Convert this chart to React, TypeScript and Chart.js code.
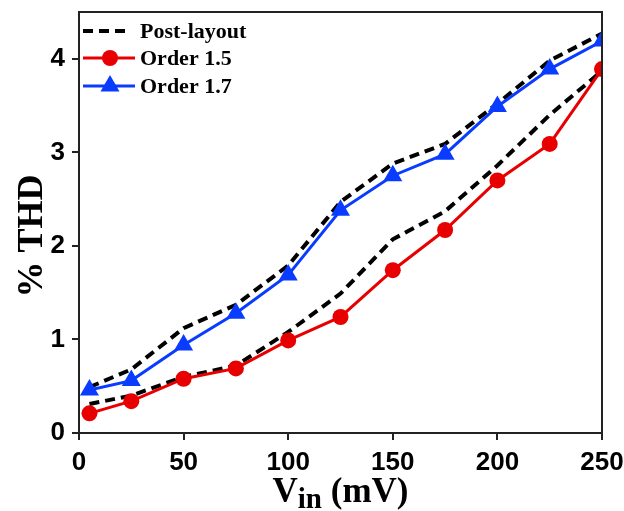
import React, { useEffect, useRef } from "react";
import { Chart, registerables } from "chart.js";

Chart.register(...registerables);

const vin = [5, 25, 50, 75, 100, 125, 150, 175, 200, 225, 250];
const order15 = [0.21, 0.34, 0.58, 0.69, 0.99, 1.24, 1.74, 2.17, 2.7, 3.09, 3.89];
const order17 = [0.46, 0.56, 0.94, 1.28, 1.69, 2.38, 2.75, 2.98, 3.49, 3.89, 4.19];
const post15 = [0.31, 0.4, 0.6, 0.72, 1.08, 1.49, 2.07, 2.37, 2.86, 3.4, 3.87];
const post17 = [0.49, 0.68, 1.12, 1.37, 1.79, 2.47, 2.88, 3.09, 3.52, 3.98, 4.27];
const xTicks = [0, 50, 100, 150, 200, 250];
const yTicks = [0, 1, 2, 3, 4];
const legendLabels = ["Post-layout", "Order 1.5", "Order 1.7"];

const RED = "#e80000";
const BLUE = "#0a3cff";
const SERIF = "'Liberation Serif', 'Times New Roman', serif";
const SANS = "'Liberation Sans', Arial, sans-serif";

const toPts = (ys: number[]) => ys.map((y, i) => ({ x: vin[i], y }));

const decor = {
  id: "decor",
  afterDraw(chart: any) {
    const ctx = chart.ctx as CanvasRenderingContext2D;
    const a = chart.chartArea;
    ctx.save();
    // frame top/right
    ctx.strokeStyle = "#222";
    ctx.lineWidth = 2;
    ctx.beginPath();
    ctx.moveTo(a.left, a.top);
    ctx.lineTo(a.right, a.top);
    ctx.lineTo(a.right, a.bottom);
    ctx.stroke();

    // legend
    const lx0 = a.left + 4;
    const lx1 = a.left + 56;
    const mx = a.left + 31;
    const tx = a.left + 61;
    const rows = [a.top + 19, a.top + 46, a.top + 74];
    ctx.font = `bold 22px ${SERIF}`;
    ctx.textBaseline = "middle";
    ctx.fillStyle = "#000";
    // row 1 dashed
    ctx.strokeStyle = "#000";
    ctx.lineWidth = 4;
    ctx.setLineDash([10, 6]);
    ctx.beginPath();
    ctx.moveTo(lx0, rows[0]);
    ctx.lineTo(lx1 - 5, rows[0]);
    ctx.stroke();
    ctx.setLineDash([]);
    // row 2 red
    ctx.strokeStyle = RED;
    ctx.lineWidth = 3;
    ctx.beginPath();
    ctx.moveTo(lx0, rows[1]);
    ctx.lineTo(lx1, rows[1]);
    ctx.stroke();
    ctx.fillStyle = RED;
    ctx.beginPath();
    ctx.arc(mx, rows[1], 8, 0, Math.PI * 2);
    ctx.fill();
    // row 3 blue
    ctx.strokeStyle = BLUE;
    ctx.beginPath();
    ctx.moveTo(lx0, rows[2]);
    ctx.lineTo(lx1, rows[2]);
    ctx.stroke();
    ctx.fillStyle = BLUE;
    const r = 11;
    ctx.beginPath();
    ctx.moveTo(mx, rows[2] - r);
    ctx.lineTo(mx + r * 0.866, rows[2] + r * 0.5);
    ctx.lineTo(mx - r * 0.866, rows[2] + r * 0.5);
    ctx.closePath();
    ctx.fill();
    ctx.fillStyle = "#000";
    legendLabels.forEach((t, i) => ctx.fillText(t, tx, rows[i] + 1));

    // x title with subscript
    const big = `bold 35px ${SERIF}`;
    const small = `bold 29px ${SERIF}`;
    ctx.textBaseline = "alphabetic";
    ctx.font = big;
    const wV = ctx.measureText("V").width;
    const wRest = ctx.measureText(" (mV)").width;
    ctx.font = small;
    const wIn = ctx.measureText("in").width;
    const total = wV + wIn + wRest;
    let x = (a.left + a.right) / 2 - total / 2;
    const by = 502;
    ctx.font = big;
    ctx.fillText("V", x, by);
    x += wV;
    ctx.font = small;
    ctx.fillText("in", x, by + 6);
    x += wIn;
    ctx.font = big;
    ctx.fillText(" (mV)", x, by);

    // y title
    ctx.save();
    ctx.translate(42, 236);
    ctx.rotate(-Math.PI / 2);
    ctx.font = `bold 36px ${SERIF}`;
    ctx.textAlign = "center";
    ctx.fillText("% THD", 0, 0);
    ctx.restore();

    ctx.restore();
  },
};

export default function App() {
  const ref = useRef<HTMLCanvasElement | null>(null);
  useEffect(() => {
    document.body.style.margin = "0";
    const canvas = ref.current!;
    const chart = new Chart(canvas, {
      type: "line",
      data: {
        datasets: [
          {
            label: "Order 1.7",
            data: toPts(order17),
            borderColor: BLUE,
            backgroundColor: BLUE,
            borderWidth: 3,
            pointStyle: "triangle",
            pointRadius: 11,
            pointBorderWidth: 0,
            pointBackgroundColor: BLUE,
            tension: 0,
          },
          {
            label: "Order 1.5",
            data: toPts(order15),
            borderColor: RED,
            backgroundColor: RED,
            borderWidth: 3,
            pointStyle: "circle",
            pointRadius: 8,
            pointBorderWidth: 0,
            pointBackgroundColor: RED,
            tension: 0,
          },
          {
            label: "Post-layout",
            data: toPts(post17),
            borderColor: "#000",
            borderWidth: 4,
            borderDash: [10, 6],
            pointRadius: 0,
            tension: 0,
          },
          {
            label: "Post-layout 1.5",
            data: toPts(post15),
            borderColor: "#000",
            borderWidth: 4,
            borderDash: [10, 6],
            pointRadius: 0,
            tension: 0,
          },
        ],
      },
      options: {
        animation: false,
        responsive: false,
        devicePixelRatio: 1,
        layout: { padding: { left: 0, top: 12, right: 22, bottom: 0 } },
        plugins: { legend: { display: false }, tooltip: { enabled: false } },
        scales: {
          x: {
            type: "linear",
            min: 0,
            max: 250,
            afterBuildTicks: (s: any) => {
              s.ticks = xTicks.map((v) => ({ value: v }));
            },
            afterFit: (s: any) => {
              s.height = 78;
              s.paddingLeft = 0;
              s.paddingRight = 0;
            },
            ticks: {
              color: "#000",
              font: { family: SANS, size: 26, weight: "bold" },
              padding: 7,
              maxRotation: 0,
            },
            grid: { drawOnChartArea: false, drawTicks: true, tickLength: 7, color: "#222", lineWidth: 2 },
            border: { display: true, color: "#222", width: 2 },
          },
          y: {
            type: "linear",
            min: 0,
            max: 4.5,
            afterBuildTicks: (s: any) => {
              s.ticks = yTicks.map((v) => ({ value: v }));
            },
            afterFit: (s: any) => {
              s.width = 79;
              s.paddingTop = 0;
              s.paddingBottom = 0;
            },
            ticks: {
              color: "#000",
              font: { family: SANS, size: 26, weight: "bold" },
              padding: 7,
            },
            grid: { drawOnChartArea: false, drawTicks: true, tickLength: 7, color: "#222", lineWidth: 2 },
            border: { display: true, color: "#222", width: 2 },
          },
        },
      },
      plugins: [decor],
    });
    return () => chart.destroy();
  }, []);
  return (
    <div style={{ position: "fixed", left: 0, top: 0, width: 624, height: 511, background: "#fff" }}>
      <canvas ref={ref} width={624} height={511} style={{ width: 624, height: 511 }} />
    </div>
  );
}
